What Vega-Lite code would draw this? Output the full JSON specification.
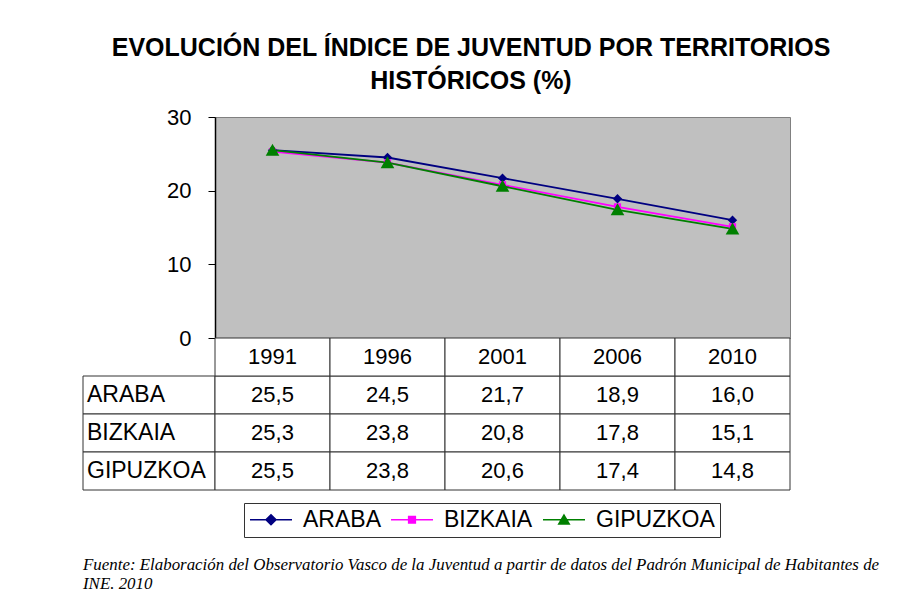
{
  "$schema": "https://vega.github.io/schema/vega-lite/v6.json",
  "padding": {"left": 82, "top": 35, "right": 0, "bottom": 0},
  "background": "white",
  "datasets": {
    "indice": [
      {"territorio": "ARABA", "year": "1991", "value": 25.5},
      {"territorio": "ARABA", "year": "1996", "value": 24.5},
      {"territorio": "ARABA", "year": "2001", "value": 21.7},
      {"territorio": "ARABA", "year": "2006", "value": 18.9},
      {"territorio": "ARABA", "year": "2010", "value": 16.0},
      {"territorio": "BIZKAIA", "year": "1991", "value": 25.3},
      {"territorio": "BIZKAIA", "year": "1996", "value": 23.8},
      {"territorio": "BIZKAIA", "year": "2001", "value": 20.8},
      {"territorio": "BIZKAIA", "year": "2006", "value": 17.8},
      {"territorio": "BIZKAIA", "year": "2010", "value": 15.1},
      {"territorio": "GIPUZKOA", "year": "1991", "value": 25.5},
      {"territorio": "GIPUZKOA", "year": "1996", "value": 23.8},
      {"territorio": "GIPUZKOA", "year": "2001", "value": 20.6},
      {"territorio": "GIPUZKOA", "year": "2006", "value": 17.4},
      {"territorio": "GIPUZKOA", "year": "2010", "value": 14.8}
    ],
    "anos": [
      {"year": "1991"}, {"year": "1996"}, {"year": "2001"}, {"year": "2006"}, {"year": "2010"}
    ],
    "territorios": [
      {"territorio": "ARABA"}, {"territorio": "BIZKAIA"}, {"territorio": "GIPUZKOA"}
    ]
  },
  "title": {
    "text": ["Fuente: Elaboración del Observatorio Vasco de la Juventud a partir de datos del Padrón Municipal de Habitantes de", "INE. 2010"],
    "orient": "bottom",
    "anchor": "start",
    "frame": "group",
    "font": "Liberation Serif",
    "fontStyle": "italic",
    "fontWeight": "normal",
    "fontSize": 16.9,
    "lineHeight": 19,
    "color": "black",
    "offset": 19
  },
  "columns": 2,
  "spacing": 0,
  "bounds": "flush",
  "concat": [
    {
      "width": 132,
      "height": 221,
      "data": {"values": []},
      "mark": {"type": "text"}
    },
    {
      "width": 575,
      "height": 221,
      "data": {"name": "indice"},
      "view": {"fill": "#C0C0C0", "stroke": "#808080", "strokeWidth": 1},
      "title": {
        "text": ["EVOLUCIÓN DEL ÍNDICE DE JUVENTUD POR TERRITORIOS", "HISTÓRICOS (%)"],
        "anchor": "middle",
        "dx": -31.5,
        "fontSize": 25,
        "fontWeight": "bold",
        "font": "Liberation Sans",
        "color": "black",
        "lineHeight": 33,
        "offset": 12
      },
      "encoding": {
        "x": {"field": "year", "type": "ordinal", "scale": {"type": "point", "padding": 0.5}, "axis": null},
        "y": {
          "field": "value",
          "type": "quantitative",
          "scale": {"domain": [0, 30], "nice": false},
          "axis": {
            "values": [0, 10, 20, 30],
            "title": null,
            "grid": false,
            "domainColor": "black",
            "domainWidth": 1.5,
            "tickColor": "black",
            "tickSize": 7,
            "labelFontSize": 22,
            "labelFont": "Liberation Sans",
            "labelColor": "black",
            "labelPadding": 17
          }
        },
        "color": {
          "field": "territorio",
          "type": "nominal",
          "scale": {"domain": ["ARABA", "BIZKAIA", "GIPUZKOA"], "range": ["#000080", "#FF00FF", "#008000"]},
          "legend": {
            "orient": "none",
            "legendX": 161,
            "legendY": 386,
            "direction": "horizontal",
            "title": null,
            "strokeColor": "#333333",
            "fillColor": "white",
            "padding": 5,
            "labelFontSize": 23,
            "labelFont": "Liberation Sans",
            "labelColor": "black",
            "labelOffset": 31,
            "columnPadding": 7,
            "symbolSize": 441,
            "symbolStrokeWidth": 1.5,
            "symbolOpacity": 1
          }
        }
      },
      "layer": [
        {"mark": {"type": "line", "strokeWidth": 1.8}},
        {
          "transform": [{"filter": {"field": "territorio", "equal": "ARABA"}}],
          "mark": {"type": "point", "filled": true, "size": 169, "opacity": 1, "shape": "M0,-0.72L0.72,0L0,0.72L-0.72,0Z"}
        },
        {
          "transform": [{"filter": {"field": "territorio", "equal": "BIZKAIA"}}],
          "mark": {"type": "point", "filled": true, "size": 169, "opacity": 1, "shape": "M-0.55,-0.55H0.55V0.55H-0.55Z"}
        },
        {
          "transform": [{"filter": {"field": "territorio", "equal": "GIPUZKOA"}}],
          "mark": {"type": "point", "filled": true, "size": 169, "opacity": 1, "shape": "M0,-1L1.05,0.85H-1.05Z"}
        },
        {
          "data": {"values": []},
          "mark": {"type": "point", "filled": true, "opacity": 1},
          "encoding": {
            "shape": {
              "field": "territorio",
              "type": "nominal",
              "scale": {
                "domain": ["ARABA", "BIZKAIA", "GIPUZKOA"],
                "range": [
                  "M-1,0H3M1,-0.48L1.48,0L1,0.48L0.52,0Z",
                  "M-1,0H3M0.68,-0.32H1.32V0.32H0.68Z",
                  "M-1,0H3M1,-0.45L1.5,0.4H0.5Z"
                ]
              }
            }
          }
        }
      ]
    },
    {
      "width": 132,
      "height": 152,
      "data": {"name": "territorios"},
      "encoding": {
        "y": {"field": "territorio", "type": "nominal", "scale": {"domain": ["AÑO", "ARABA", "BIZKAIA", "GIPUZKOA"], "paddingInner": 0, "paddingOuter": 0}, "axis": null},
        "x": {"datum": "territorio", "type": "nominal", "scale": {"domain": ["territorio"], "paddingInner": 0, "paddingOuter": 0}, "axis": null}
      },
      "layer": [
        {"mark": {"type": "rect", "fill": "white", "stroke": "#333333", "strokeWidth": 1}},
        {
          "mark": {"type": "text", "align": "left", "baseline": "middle", "dx": 4, "fontSize": 23, "font": "Liberation Sans", "color": "black"},
          "encoding": {
            "x": {"datum": "territorio", "type": "nominal", "bandPosition": 0},
            "text": {"field": "territorio"}
          }
        }
      ]
    },
    {
      "width": 575,
      "height": 152,
      "encoding": {
        "x": {"field": "year", "type": "ordinal", "scale": {"paddingInner": 0, "paddingOuter": 0}, "axis": null}
      },
      "layer": [
        {
          "data": {"name": "indice"},
          "mark": {"type": "rect", "fill": "white", "stroke": "#333333", "strokeWidth": 1},
          "encoding": {
            "y": {"field": "territorio", "type": "nominal", "scale": {"domain": ["AÑO", "ARABA", "BIZKAIA", "GIPUZKOA"], "paddingInner": 0, "paddingOuter": 0}, "axis": null}
          }
        },
        {
          "data": {"name": "anos"},
          "mark": {"type": "rect", "fill": "white", "stroke": "#333333", "strokeWidth": 1},
          "encoding": {"y": {"datum": "AÑO", "type": "nominal"}}
        },
        {
          "data": {"name": "indice"},
          "mark": {"type": "text", "baseline": "middle", "fontSize": 22, "font": "Liberation Sans", "color": "black"},
          "encoding": {
            "y": {"field": "territorio", "type": "nominal"},
            "text": {"field": "value", "type": "quantitative", "format": ".1f"}
          }
        },
        {
          "data": {"name": "anos"},
          "mark": {"type": "text", "baseline": "middle", "fontSize": 22, "font": "Liberation Sans", "color": "black"},
          "encoding": {
            "y": {"datum": "AÑO", "type": "nominal"},
            "text": {"field": "year"}
          }
        }
      ]
    }
  ],
  "config": {
    "view": {"stroke": null},
    "font": "Liberation Sans",
    "locale": {
      "number": {"decimal": ",", "thousands": ".", "grouping": [3], "currency": ["", " €"]}
    }
  }
}
